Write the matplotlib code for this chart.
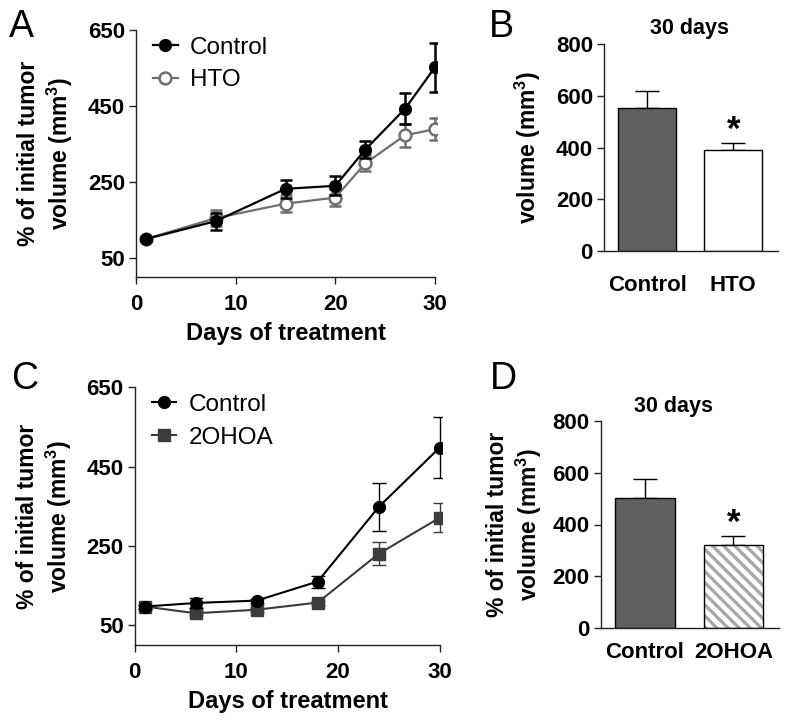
import matplotlib
matplotlib.use("Agg")
import matplotlib.pyplot as plt
from matplotlib.lines import Line2D
import numpy as np

plt.rcParams['font.family'] = ['Liberation Sans', 'DejaVu Sans']
plt.rcParams['mathtext.fontset'] = 'custom'
plt.rcParams['mathtext.rm'] = 'Liberation Sans:bold'
plt.rcParams['mathtext.bf'] = 'Liberation Sans:bold'
plt.rcParams['mathtext.default'] = 'bf'
plt.rcParams['hatch.linewidth'] = 2.4

# ---- Panel A data ----
days_a = [1, 8, 15, 20, 23, 27, 30]
ctrl_a = [100, 147, 232, 240, 335, 443, 552]
ctrl_a_err = [5, 22, 24, 25, 23, 41, 65]
hto_a = [100, 155, 193, 209, 299, 373, 389]
hto_a_err = [5, 22, 23, 23, 21, 30, 29]

# ---- Panel B data ----
bar_b_labels = ["Control", "HTO"]
bar_b_vals = [552, 389]
bar_b_err = [65, 29]

# ---- Panel C data ----
days_c = [1, 6, 12, 18, 24, 30]
ctrl_c = [97, 106, 112, 160, 348, 498]
ctrl_c_err = [5, 12, 5, 15, 60, 78]
ohoa_c = [97, 80, 89, 107, 230, 321]
ohoa_c_err = [5, 5, 5, 5, 29, 37]

# ---- Panel D data ----
bar_d_labels = ["Control", "2OHOA"]
bar_d_vals = [501, 322]
bar_d_err = [74, 35]

W, H = 790, 724
fig = plt.figure(figsize=(W / 100, H / 100), dpi=100)

def ax_at(x0, y0, x1, y1):
    return fig.add_axes([x0 / W, 1 - y1 / H, (x1 - x0) / W, (y1 - y0) / H])

TICK_FS = 16
LAB_FS = 16.5
XLAB_FS = 17
LEG_FS = 17.5

def style(ax):
    for s in ['top', 'right']:
        ax.spines[s].set_visible(False)
    for s in ['left', 'bottom']:
        ax.spines[s].set_linewidth(1.0)
        ax.spines[s].set_color('#222222')
    ax.tick_params(direction='out', length=5, width=1.0, colors='#222222',
                   labelsize=TICK_FS, labelcolor='black', pad=3)
    for lab in ax.get_xticklabels() + ax.get_yticklabels():
        lab.set_fontweight('bold')

ylabel2 = "% of initial tumor\nvolume (mm$^{3}$)"

CTRL_C = 'black'
HTO_C = '#6f6f6f'
OHOA_C = '#3c3c3c'

# ---------- Panel A ----------
axA = ax_at(136, 30, 437, 277)
axA.errorbar(days_a, ctrl_a, yerr=ctrl_a_err, fmt='-o', color=CTRL_C, ms=8.5,
             lw=1.6, elinewidth=1.8, capsize=4, capthick=1.8, zorder=3)
axA.errorbar(days_a, hto_a, yerr=hto_a_err, fmt='-o', color=HTO_C, mfc='white',
             mec=HTO_C, mew=1.8, ms=8.5, lw=1.6, elinewidth=1.8, capsize=4,
             capthick=1.8, zorder=2)
axA.set_xlim(0, 30.2)
axA.set_ylim(0, 650)
axA.set_xticks([0, 10, 20, 30])
axA.set_yticks([50, 250, 450, 650])
axA.spines['left'].set_bounds(0, 650)
axA.spines['bottom'].set_bounds(0, 30)
style(axA)
axA.tick_params(axis='x', pad=7)
axA.set_xlabel("Days of treatment", fontsize=XLAB_FS, fontweight='bold', labelpad=5)
axA.set_ylabel(ylabel2, fontsize=LAB_FS, fontweight='bold', labelpad=9, linespacing=1.2)
hA = [Line2D([], [], color=CTRL_C, marker='o', ms=8.5, lw=1.6),
      Line2D([], [], color=HTO_C, marker='o', mfc='white', mec=HTO_C, mew=1.8, ms=8.5, lw=1.6)]
axA.legend(hA, ["Control", "HTO"], loc='upper left', bbox_to_anchor=(0.025, 1.013),
           frameon=False, fontsize=LEG_FS, handlelength=1.0, handletextpad=0.5,
           labelspacing=0.45, borderaxespad=0)

# ---------- Panel B ----------
axB = ax_at(604, 44, 778, 251)
xb = np.arange(len(bar_b_labels))
axB.bar(xb, bar_b_vals, width=0.67, color=['#606060', 'white'], edgecolor='black',
        linewidth=1.0, zorder=2)
axB.errorbar(xb, bar_b_vals, yerr=[[0, 0], bar_b_err], fmt='none', ecolor='black',
             elinewidth=1.0, capsize=8.5, capthick=1.0, zorder=1)
axB.set_xlim(-0.5, 1.52)
axB.set_ylim(0, 800)
axB.set_yticks([0, 200, 400, 600, 800])
axB.set_xticks(xb)
axB.set_xticklabels(bar_b_labels)
style(axB)
axB.tick_params(axis='x', length=0, pad=17, labelsize=16)
axB.set_ylabel("volume (mm$^{3}$)", fontsize=LAB_FS, fontweight='bold', labelpad=9)
axB.text(1, bar_b_vals[1] + bar_b_err[1] - 15, "*", ha='center', va='bottom',
         fontsize=25, fontweight='bold')
fig.text(689 / W, 1 - 34 / H, "30 days", ha='center', va='baseline',
         fontsize=15.5, fontweight='bold')

# ---------- Panel C ----------
axC = ax_at(134.7, 387.3, 441.7, 645)
axC.errorbar(days_c, ctrl_c, yerr=ctrl_c_err, fmt='-o', color=CTRL_C, ms=8.5,
             lw=1.5, elinewidth=1.0, capsize=5, capthick=1.0, zorder=3)
axC.errorbar(days_c, ohoa_c, yerr=ohoa_c_err, fmt='-s', color=OHOA_C, ms=8.5,
             lw=1.5, elinewidth=1.0, capsize=5, capthick=1.0, zorder=2)
axC.set_xlim(0, 30.2)
axC.set_ylim(0, 650)
axC.set_xticks([0, 10, 20, 30])
axC.set_yticks([50, 250, 450, 650])
axC.spines['left'].set_bounds(0, 650)
axC.spines['bottom'].set_bounds(0, 30)
style(axC)
axC.tick_params(axis='x', pad=7)
axC.set_xlabel("Days of treatment", fontsize=XLAB_FS, fontweight='bold', labelpad=5)
axC.set_ylabel(ylabel2, fontsize=LAB_FS, fontweight='bold', labelpad=9, linespacing=1.2)
hC = [Line2D([], [], color=CTRL_C, marker='o', ms=8.5, lw=1.5),
      Line2D([], [], color=OHOA_C, marker='s', ms=8.5, lw=1.5)]
axC.legend(hC, ["Control", "2OHOA"], loc='upper left', bbox_to_anchor=(0.025, 1.012),
           frameon=False, fontsize=LEG_FS, handlelength=1.0, handletextpad=0.5,
           labelspacing=0.45, borderaxespad=0)

# ---------- Panel D ----------
axD = ax_at(600.7, 420.7, 779.3, 628.3)
xd = np.arange(len(bar_d_labels))
axD.bar(xd[0], bar_d_vals[0], width=0.67, color='#606060', edgecolor='black',
        linewidth=1.0, zorder=2)
axD.bar(xd[1], bar_d_vals[1], width=0.67, color='white', edgecolor='#a8a8a8',
        hatch='\\\\\\', linewidth=0, zorder=2)
axD.bar(xd[1], bar_d_vals[1], width=0.67, fill=False, edgecolor='black',
        linewidth=1.0, zorder=3)
axD.errorbar(xd, bar_d_vals, yerr=[[0, 0], bar_d_err], fmt='none', ecolor='black',
             elinewidth=1.0, capsize=8.5, capthick=1.0, zorder=1)
axD.set_xlim(-0.5, 1.52)
axD.set_ylim(0, 800)
axD.set_yticks([0, 200, 400, 600, 800])
axD.set_xticks(xd)
axD.set_xticklabels(bar_d_labels)
style(axD)
axD.tick_params(axis='x', length=0, pad=10, labelsize=16)
axD.set_ylabel(ylabel2, fontsize=LAB_FS, fontweight='bold', labelpad=6, linespacing=1.2)
axD.text(1, bar_d_vals[1] + bar_d_err[1] - 15, "*", ha='center', va='bottom',
         fontsize=25, fontweight='bold')
fig.text(673 / W, 1 - 412 / H, "30 days", ha='center', va='baseline',
         fontsize=15.5, fontweight='bold')

# ---------- Panel letters ----------
for letter, x, y in [("A", 9, 37), ("B", 489, 37), ("C", 11, 389), ("D", 490, 389)]:
    fig.text(x / W, 1 - y / H, letter, ha='left', va='baseline', fontsize=27)

fig.savefig("out.png", dpi=100)
